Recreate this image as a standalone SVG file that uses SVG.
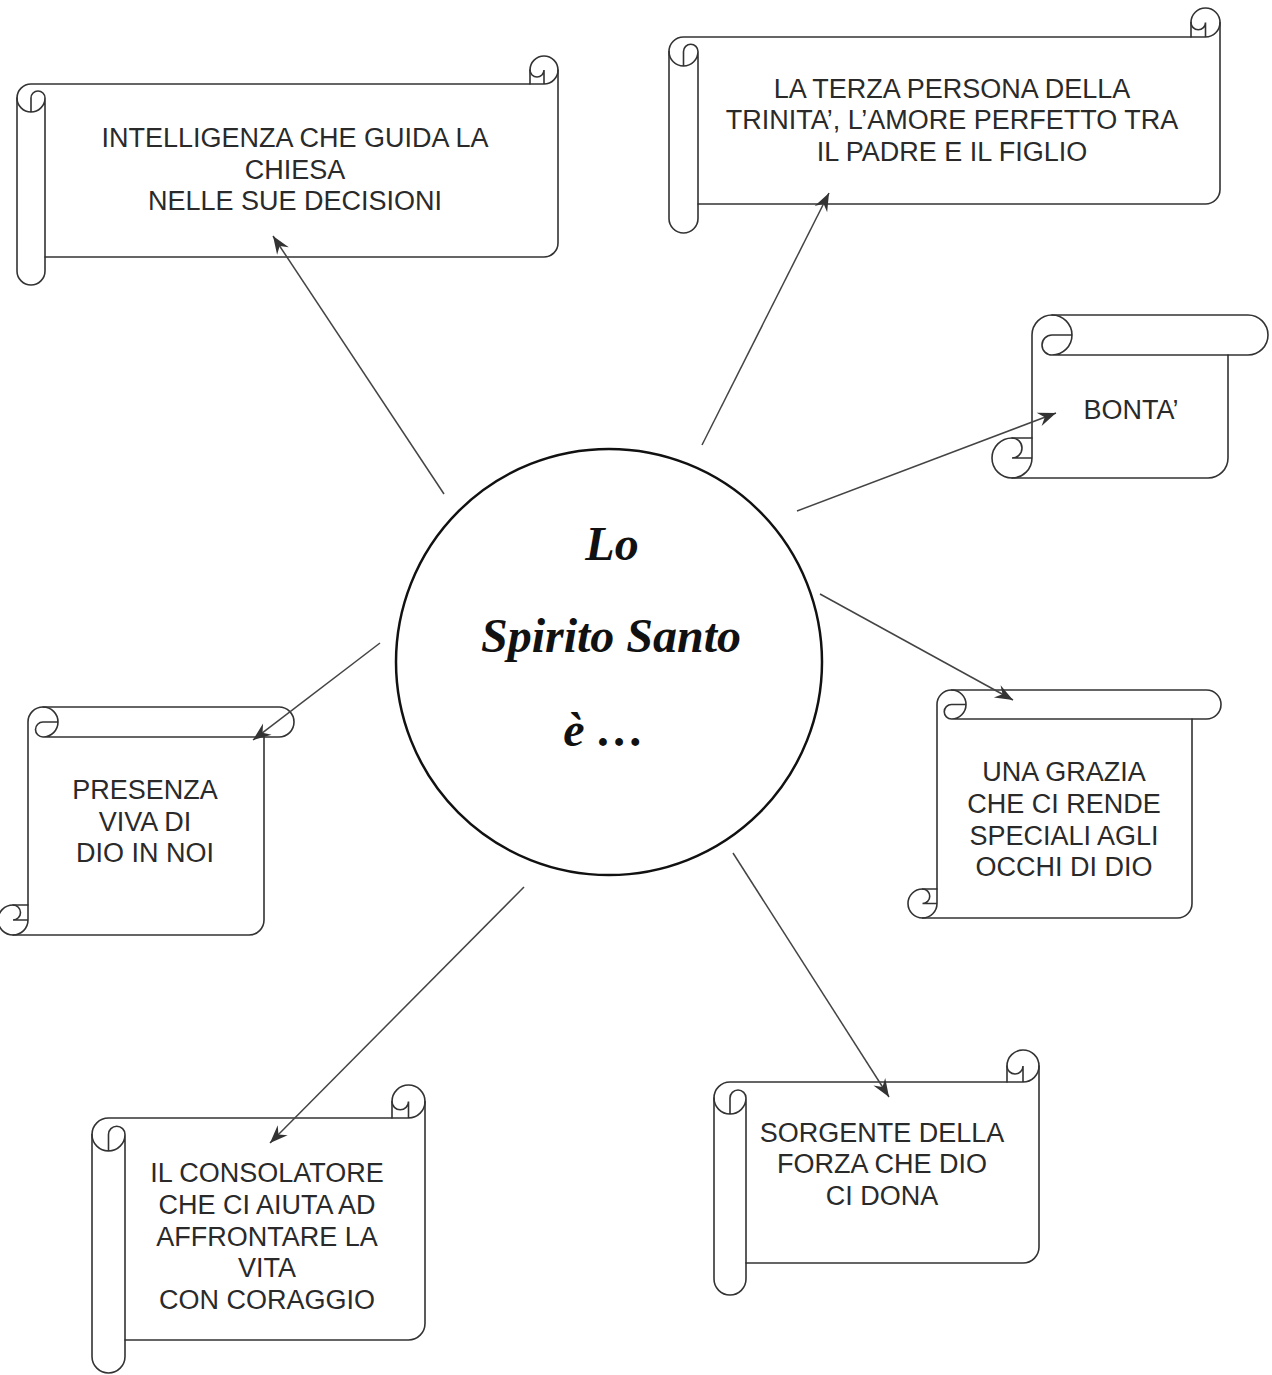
<svg xmlns="http://www.w3.org/2000/svg" width="1272" height="1375" viewBox="0 0 1272 1375">
<style>
.sc{fill:#fff;stroke:#333;stroke-width:1.6;stroke-linejoin:round}
.dt{fill:none;stroke:#333;stroke-width:1.6;stroke-linecap:round}
.tx{font-family:"Liberation Sans",Arial,sans-serif;font-size:27px;fill:#2a2a2a;text-anchor:middle}
.ct{font-family:"Liberation Serif","Times New Roman",serif;font-style:italic;font-weight:bold;font-size:48px;fill:#111;text-anchor:middle}
.cn{stroke:#444;stroke-width:1.5;fill:none}
</style>
<defs>
<marker id="ah" viewBox="-19 -8 20 16" markerWidth="20" markerHeight="16" refX="0" refY="0" orient="auto" markerUnits="userSpaceOnUse">
<path d="M0,0 L-18,-7 L-12,0 L-18,7 Z" fill="#333"/>
</marker>
</defs>
<rect width="1272" height="1375" fill="#fff"/>

<g id="n-intelligenza" transform="translate(17,56)">
<path class="sc" d="M0,42 A14 14 0 0 1 14,28 L513,28 L513,14 A14 14 0 0 1 541,14 L541,187 A14 14 0 0 1 527,201 L28,201 L28,215 A14 14 0 0 1 0,215 Z"/>
<path class="dt" d="M513,28 L527,28 A14 14 0 0 0 541,14 M527,28 L527,14 A7 7 0 0 1 513,14 M14,56 L14,42 A7 7 0 0 1 28,42 A14 14 0 0 1 0,42 M28,42 L28,201"/>
</g>
<text class="tx" x="295" y="147">INTELLIGENZA CHE GUIDA LA</text>
<text class="tx" x="295" y="179">CHIESA</text>
<text class="tx" x="295" y="210">NELLE SUE DECISIONI</text>

<g id="n-terza" transform="translate(669,8)">
<path class="sc" d="M0,43.5 A14.5 14.5 0 0 1 14.5,29 L522,29 L522,14.5 A14.5 14.5 0 0 1 551,14.5 L551,181.5 A14.5 14.5 0 0 1 536.5,196 L29,196 L29,210.5 A14.5 14.5 0 0 1 0,210.5 Z"/>
<path class="dt" d="M522,29 L536.5,29 A14.5 14.5 0 0 0 551,14.5 M536.5,29 L536.5,14.5 A7.25 7.25 0 0 1 522,14.5 M14.5,58 L14.5,43.5 A7.25 7.25 0 0 1 29,43.5 A14.5 14.5 0 0 1 0,43.5 M29,43.5 L29,196"/>
</g>
<text class="tx" x="952" y="98">LA TERZA PERSONA DELLA</text>
<text class="tx" x="952" y="129">TRINITA’, L’AMORE PERFETTO TRA</text>
<text class="tx" x="952" y="161">IL PADRE E IL FIGLIO</text>

<g id="n-bonta" transform="matrix(0 1 1 0 992 315)">
<path class="sc" d="M0,60 A20 20 0 0 1 20,40 L123,40 L123,20 A20 20 0 0 1 163,20 L163,216 A20 20 0 0 1 143,236 L40,236 L40,256 A20 20 0 0 1 0,256 Z"/>
<path class="dt" d="M123,40 L143,40 A20 20 0 0 0 163,20 M143,40 L143,20 A10 10 0 0 1 123,20 M20,80 L20,60 A10 10 0 0 1 40,60 A20 20 0 0 1 0,60 M40,60 L40,236"/>
</g>
<text class="tx" x="1131" y="419">BONTA’</text>

<g id="n-presenza" transform="matrix(0 1 1 0 -2 707)">
<path class="sc" d="M0,45 A15 15 0 0 1 15,30 L198,30 L198,15 A15 15 0 0 1 228,15 L228,251 A15 15 0 0 1 213,266 L30,266 L30,281 A15 15 0 0 1 0,281 Z"/>
<path class="dt" d="M198,30 L213,30 A15 15 0 0 0 228,15 M213,30 L213,15 A7.5 7.5 0 0 1 198,15 M15,60 L15,45 A7.5 7.5 0 0 1 30,45 A15 15 0 0 1 0,45 M30,45 L30,266"/>
</g>
<text class="tx" x="145" y="799">PRESENZA</text>
<text class="tx" x="145" y="831">VIVA DI</text>
<text class="tx" x="145" y="862">DIO IN NOI</text>

<g id="n-grazia" transform="matrix(0 1 1 0 908 690)">
<path class="sc" d="M0,43.5 A14.5 14.5 0 0 1 14.5,29 L199,29 L199,14.5 A14.5 14.5 0 0 1 228,14.5 L228,269.5 A14.5 14.5 0 0 1 213.5,284 L29,284 L29,298.5 A14.5 14.5 0 0 1 0,298.5 Z"/>
<path class="dt" d="M199,29 L213.5,29 A14.5 14.5 0 0 0 228,14.5 M213.5,29 L213.5,14.5 A7.25 7.25 0 0 1 199,14.5 M14.5,58 L14.5,43.5 A7.25 7.25 0 0 1 29,43.5 A14.5 14.5 0 0 1 0,43.5 M29,43.5 L29,284"/>
</g>
<text class="tx" x="1064" y="781">UNA GRAZIA</text>
<text class="tx" x="1064" y="813">CHE CI RENDE</text>
<text class="tx" x="1064" y="845">SPECIALI AGLI</text>
<text class="tx" x="1064" y="876">OCCHI DI DIO</text>

<g id="n-consolatore" transform="translate(92,1085)">
<path class="sc" d="M0,49.5 A16.5 16.5 0 0 1 16.5,33 L300,33 L300,16.5 A16.5 16.5 0 0 1 333,16.5 L333,238.5 A16.5 16.5 0 0 1 316.5,255 L33,255 L33,271.5 A16.5 16.5 0 0 1 0,271.5 Z"/>
<path class="dt" d="M300,33 L316.5,33 A16.5 16.5 0 0 0 333,16.5 M316.5,33 L316.5,16.5 A8.25 8.25 0 0 1 300,16.5 M16.5,66 L16.5,49.5 A8.25 8.25 0 0 1 33,49.5 A16.5 16.5 0 0 1 0,49.5 M33,49.5 L33,255"/>
</g>
<text class="tx" x="267" y="1182">IL CONSOLATORE</text>
<text class="tx" x="267" y="1214">CHE CI AIUTA AD</text>
<text class="tx" x="267" y="1246">AFFRONTARE LA</text>
<text class="tx" x="267" y="1277">VITA</text>
<text class="tx" x="267" y="1309">CON CORAGGIO</text>

<g id="n-sorgente" transform="translate(714,1050)">
<path class="sc" d="M0,48 A16 16 0 0 1 16,32 L293,32 L293,16 A16 16 0 0 1 325,16 L325,197 A16 16 0 0 1 309,213 L32,213 L32,229 A16 16 0 0 1 0,229 Z"/>
<path class="dt" d="M293,32 L309,32 A16 16 0 0 0 325,16 M309,32 L309,16 A8 8 0 0 1 293,16 M16,64 L16,48 A8 8 0 0 1 32,48 A16 16 0 0 1 0,48 M32,48 L32,213"/>
</g>
<text class="tx" x="882" y="1142">SORGENTE DELLA</text>
<text class="tx" x="882" y="1173">FORZA CHE DIO</text>
<text class="tx" x="882" y="1205">CI DONA</text>

<g id="n-center">
<circle cx="609" cy="662" r="213" fill="#fff" stroke="#111" stroke-width="2.5"/>
<text class="ct" x="612" y="560">Lo</text>
<text class="ct" x="611" y="652">Spirito Santo</text>
<text class="ct" x="604" y="746">è …</text>
</g>

<g id="connectors">
<line class="cn" x1="444" y1="494" x2="273" y2="236" marker-end="url(#ah)"/>
<line class="cn" x1="702" y1="445" x2="829" y2="193" marker-end="url(#ah)"/>
<line class="cn" x1="797" y1="511" x2="1056" y2="413" marker-end="url(#ah)"/>
<line class="cn" x1="820" y1="594" x2="1013" y2="700" marker-end="url(#ah)"/>
<line class="cn" x1="380" y1="643" x2="253" y2="740" marker-end="url(#ah)"/>
<line class="cn" x1="524" y1="887" x2="270" y2="1143" marker-end="url(#ah)"/>
<line class="cn" x1="733" y1="853" x2="889" y2="1097" marker-end="url(#ah)"/>
</g>
</svg>
